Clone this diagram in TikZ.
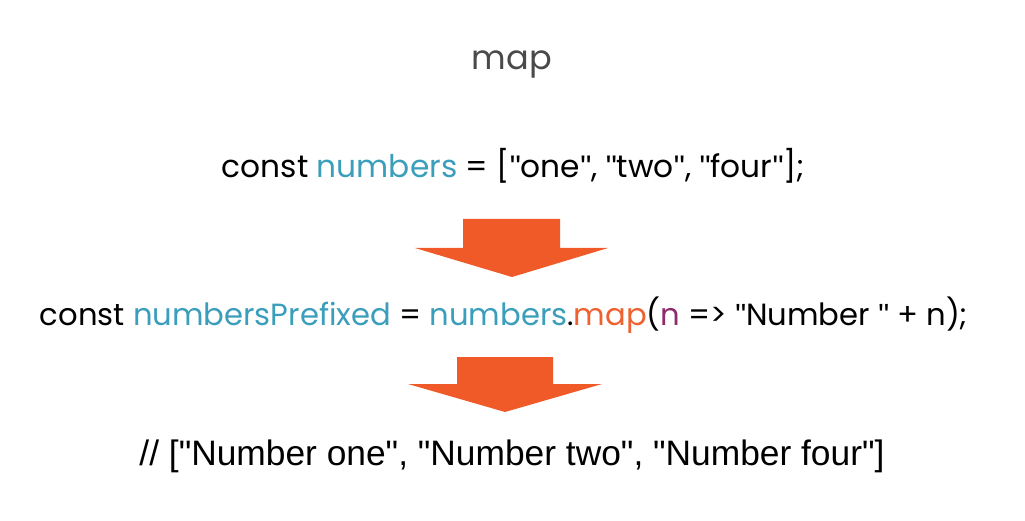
\documentclass[tikz,border=0pt]{standalone}
\usepackage{fontspec}
\usepackage{graphicx}
\setmainfont{Poppins}
\newfontfamily\narrowfont{Liberation Sans}
\newcommand{\qq}{{\narrowfont"}}
\definecolor{teal}{HTML}{3B9EBB}
\definecolor{codeorange}{HTML}{EE6230}
\definecolor{arroworange}{HTML}{F05A28}
\definecolor{codepurple}{HTML}{8E2B6A}
\definecolor{titlegray}{HTML}{4A4A4A}
\tikzset{
  codeline/.style={anchor=base, inner sep=0pt, text=black},
  bigarrow/.style={fill=arroworange, draw=none}
}
\begin{document}
\begin{tikzpicture}[x=1pt,y=-1pt]
\useasboundingbox (0,0) rectangle (1025,521);
\fill[white] (0,0) rectangle (1025,521);
\node[codeline, text=titlegray] (title) at (512,70) {\resizebox{80pt}{!}{map}};
\node[codeline] (l1) at (513.5,178) {\resizebox{583pt}{!}{const \textcolor{teal}{numbers} = [\qq one\qq, \qq two\qq, \qq four\qq];}};
\node[codeline] (l2) at (504,325) {\resizebox{928pt}{!}{const \textcolor{teal}{numbersPrefixed} = \textcolor{teal}{numbers}.\textcolor{codeorange}{map}(\textcolor{codepurple}{n} => \qq Number \qq{} + n);}};
\node[codeline] (l3) at (512,465) {\resizebox{745pt}{!}{\narrowfont // ["Number one", "Number two", "Number four"]}};
\fill[bigarrow] (463,219) -- (560,219) -- (560,248) -- (608,248) -- (512,277) -- (415,248) -- (463,248) -- cycle;
\fill[bigarrow] (457,357) -- (553,357) -- (553,384) -- (602,384) -- (505,412) -- (408,384) -- (457,384) -- cycle;
\end{tikzpicture}
\end{document}
